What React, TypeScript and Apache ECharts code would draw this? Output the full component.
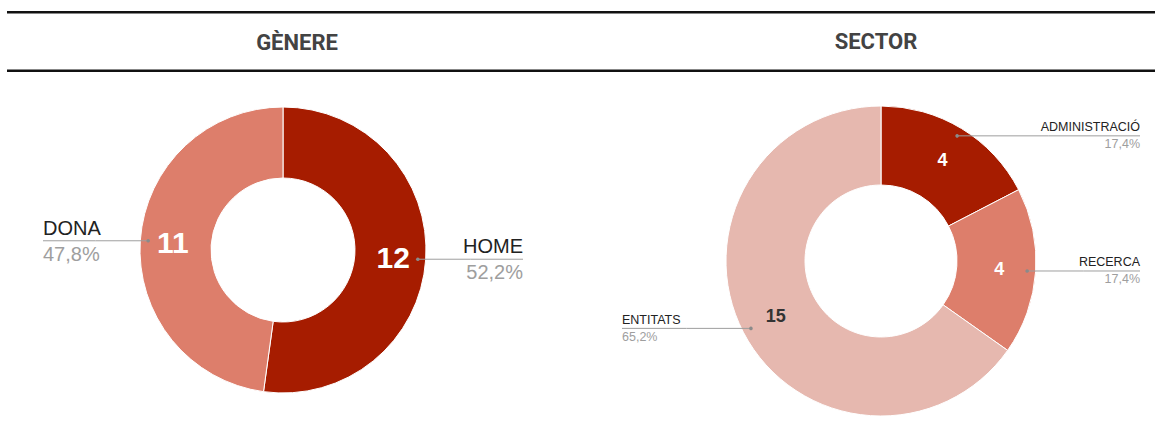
import React, { useEffect, useRef } from "react";
import * as echarts from "echarts";

const genereCategories = ["HOME", "DONA"];
const genereValues = [12, 11];
const genereColors = ["#a61c00", "#dd7e6b"];

const sectorCategories = ["ADMINISTRACIÓ", "RECERCA", "ENTITATS"];
const sectorValues = [4, 4, 15];
const sectorColors = ["#a61c00", "#dd7e6b", "#e6b8af"];
const sectorValueColors = ["#ffffff", "#ffffff", "#333333"];

const titles = ["GÈNERE", "SECTOR"];

function midAngles(values: number[]) {
  const total = values.reduce((a, b) => a + b, 0);
  let cum = 0;
  return values.map((v) => {
    const a = ((cum + v / 2) / total) * 2 * Math.PI;
    cum += v;
    return a;
  });
}

function pct(values: number[], v: number) {
  const total = values.reduce((a, b) => a + b, 0);
  return ((v / total) * 100).toFixed(1).replace(".", ",") + "%";
}

type Cfg = {
  cats: string[];
  vals: number[];
  colors: string[];
  valueColors: string[];
  cx: number;
  cy: number;
  r0: number;
  r1: number;
  edge: number;
  valueSize: number;
  nameSize: number;
  lineHeight: number;
};

function buildSeries(c: Cfg) {
  const angles = midAngles(c.vals);
  const dotR = c.r1 * 0.945;
  const pos = (i: number) => {
    const th = angles[i];
    return [c.cx + dotR * Math.sin(th), c.cy - dotR * Math.cos(th), Math.sin(th)];
  };
  const data = c.cats.map((name, i) => ({
    name,
    value: c.vals[i],
    itemStyle: { color: c.colors[i] },
    label: { color: c.valueColors[i] },
  }));
  const ring = {
    type: "pie",
    center: [c.cx, c.cy],
    radius: [c.r0, c.r1],
    startAngle: 90,
    clockwise: true,
    silent: true,
    itemStyle: { borderColor: "#ffffff", borderWidth: 1 },
    label: {
      show: true,
      position: "inside",
      formatter: "{c}",
      fontFamily: "Liberation Sans, Arial, sans-serif",
      fontWeight: "bold",
      fontSize: c.valueSize,
    },
    labelLine: { show: false },
    emphasis: { disabled: true },
    data,
  };
  const labels = {
    type: "pie",
    center: [c.cx, c.cy],
    radius: [c.r0, c.r1],
    startAngle: 90,
    clockwise: true,
    silent: true,
    z: 5,
    itemStyle: { color: "rgba(0,0,0,0)" },
    label: {
      show: true,
      position: "outside",
      overflow: "none",
      formatter: (p: any) => `{n|${p.name}}\n{p|${pct(c.vals, p.value)}}`,
      rich: {
        n: {
          fontFamily: "Liberation Sans, Arial, sans-serif",
          fontSize: c.nameSize,
          color: "#222222",
          lineHeight: c.lineHeight,
        },
        p: {
          fontFamily: "Liberation Sans, Arial, sans-serif",
          fontSize: c.nameSize,
          color: "#9e9e9e",
          lineHeight: c.lineHeight,
        },
      },
    },
    labelLine: { show: true, lineStyle: { color: "#9e9e9e", width: 1 } },
    labelLayout: (params: any) => {
      const [x, y, s] = pos(params.dataIndex);
      const right = s > 0;
      const ex = right ? c.cx + c.edge : c.cx - c.edge;
      return {
        x: ex,
        y,
        align: right ? "right" : "left",
        verticalAlign: "middle",
        width: 200,
        labelLinePoints: [
          [x, y],
          [(x + ex) / 2, y],
          [ex, y],
        ],
      };
    },
    emphasis: { disabled: true },
    data: c.cats.map((name, i) => ({ name, value: c.vals[i] })),
  };
  const dots = {
    type: "custom",
    coordinateSystem: "none",
    silent: true,
    z: 10,
    data: c.vals.map((v, i) => [i, v]),
    renderItem: (params: any) => {
      const [x, y] = pos(params.dataIndex);
      return {
        type: "circle",
        shape: { cx: x, cy: y, r: 1.8 },
        style: { fill: "#8a8a8a" },
      };
    },
  };
  return [ring, labels, dots];
}

export default function App() {
  const ref = useRef<HTMLDivElement>(null);
  useEffect(() => {
    document.body.style.margin = "0";
    if (!ref.current) return;
    const chart = echarts.init(ref.current, undefined, { renderer: "svg" });
    const left = buildSeries({
      cats: genereCategories,
      vals: genereValues,
      colors: genereColors,
      valueColors: ["#ffffff", "#ffffff"],
      cx: 283,
      cy: 250,
      r0: 72,
      r1: 143,
      edge: 240,
      valueSize: 30,
      nameSize: 20,
      lineHeight: 26,
    });
    const right = buildSeries({
      cats: sectorCategories,
      vals: sectorValues,
      colors: sectorColors,
      valueColors: sectorValueColors,
      cx: 881,
      cy: 261,
      r0: 76,
      r1: 155,
      edge: 259,
      valueSize: 18,
      nameSize: 12.5,
      lineHeight: 17,
    });
    const titleStyle = {
      fontFamily: "Roboto, sans-serif",
      fontWeight: "bold",
      fontSize: 22,
      fill: "#434343",
      textAlign: "center",
      textVerticalAlign: "middle",
    };
    chart.setOption({
      animation: false,
      backgroundColor: "#ffffff",
      graphic: [
        { type: "rect", shape: { x: 7, y: 11, width: 1148, height: 2.5 }, style: { fill: "#111111" } },
        { type: "rect", shape: { x: 7, y: 69.5, width: 1148, height: 2.5 }, style: { fill: "#111111" } },
        { type: "text", x: 297, y: 42, style: { ...titleStyle, text: titles[0] } },
        { type: "text", x: 876, y: 41, style: { ...titleStyle, text: titles[1] } },
      ],
      series: [...left, ...right],
    });
    return () => chart.dispose();
  }, []);
  return <div ref={ref} style={{ width: 1155, height: 447 }} />;
}
